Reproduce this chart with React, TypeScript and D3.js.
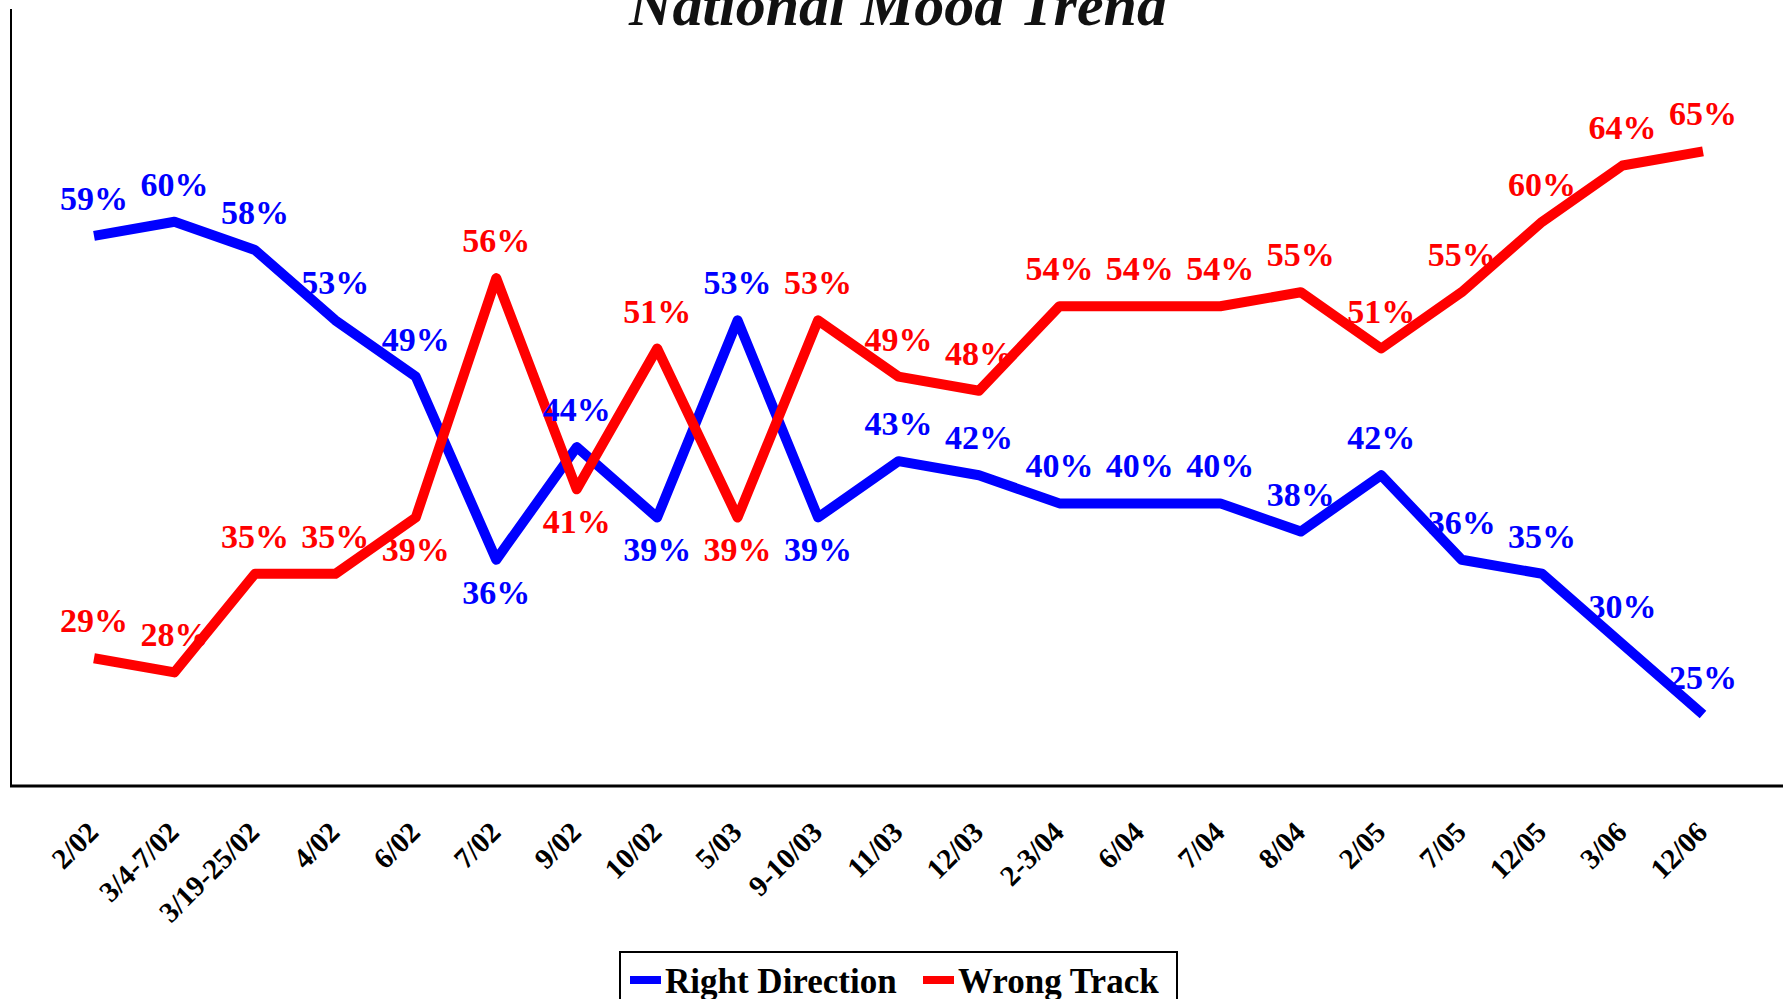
import React from 'react'
import * as d3 from 'd3'

const categories = ['2/02', '3/4-7/02', '3/19-25/02', '4/02', '6/02', '7/02', '9/02', '10/02', '5/03', '9-10/03',
  '11/03', '12/03', '2-3/04', '6/04', '7/04', '8/04', '2/05', '7/05', '12/05', '3/06', '12/06']
const rightDirection = [59, 60, 58, 53, 49, 36, 44, 39, 53, 39, 43, 42, 40, 40, 40, 38, 42, 36, 35, 30, 25]
const wrongTrack = [29, 28, 35, 35, 39, 56, 41, 51, 39, 53, 49, 48, 54, 54, 54, 55, 51, 55, 60, 64, 65]
// dates where the label sits under the line instead of over it
const rightBelow = ['7/02', '10/02', '9-10/03']
const wrongBelow = ['6/02', '9/02', '5/03']

const W = 1783
const H = 999
const font = '"Liberation Serif", "Times New Roman", serif'

const App = () => {
  const x = d3.scalePoint<string>().domain(categories).range([94, 1703])
  const y = d3.scaleLinear().domain([20, 70]).range([785, 81])

  const line = d3.line<number>()
    .x((d, i) => x(categories[i]) as number)
    .y(d => y(d))

  const series = [
    { name: 'Right Direction', values: rightDirection, color: '#0000FF', below: rightBelow },
    { name: 'Wrong Track', values: wrongTrack, color: '#FF0000', below: wrongBelow },
  ]

  return (
    <svg width={W} height={H} style={{ position: 'absolute', left: 0, top: 0, background: '#fff' }}
      fontFamily={font}>
      <text x={898} y={25} textAnchor='middle' fontSize={60} fontWeight='bold' fontStyle='italic'
        fill='#111'>National Mood Trend</text>

      <line x1={11} x2={11} y1={9} y2={786} stroke='#000' strokeWidth={2} />
      <line x1={10} x2={W} y1={786} y2={786} stroke='#000' strokeWidth={3} />

      {series.map(s => (
        <path key={s.name} d={line(s.values) ?? ''} fill='none' stroke={s.color}
          strokeWidth={10} strokeLinejoin='round' strokeLinecap='butt' />
      ))}

      {series.map(s => s.values.map((v, i) => {
        const below = s.below.includes(categories[i])
        return (
          <text key={s.name + i} x={x(categories[i])} y={y(v) + (below ? 44 : -26)}
            textAnchor='middle' fontSize={34} fontWeight='bold' fill={s.color}>{v}%</text>
        )
      }))}

      {categories.map(c => (
        <text key={c} transform={`translate(${(x(c) as number) + 6},834) rotate(-45)`}
          textAnchor='end' fontSize={29} fontWeight='bold' fill='#000'>{c}</text>
      ))}

      <g>
        <rect x={620} y={952} width={557} height={60} fill='#fff' stroke='#000' strokeWidth={2} />
        {series.map((s, i) => {
          const lx = i === 0 ? 630 : 923
          return (
            <g key={s.name}>
              <rect x={lx} y={976} width={31} height={8} fill={s.color} />
              <text x={lx + 35} y={993} fontSize={35} fontWeight='bold' fill='#000'>{s.name}</text>
            </g>
          )
        })}
      </g>
    </svg>
  )
}

export default App
